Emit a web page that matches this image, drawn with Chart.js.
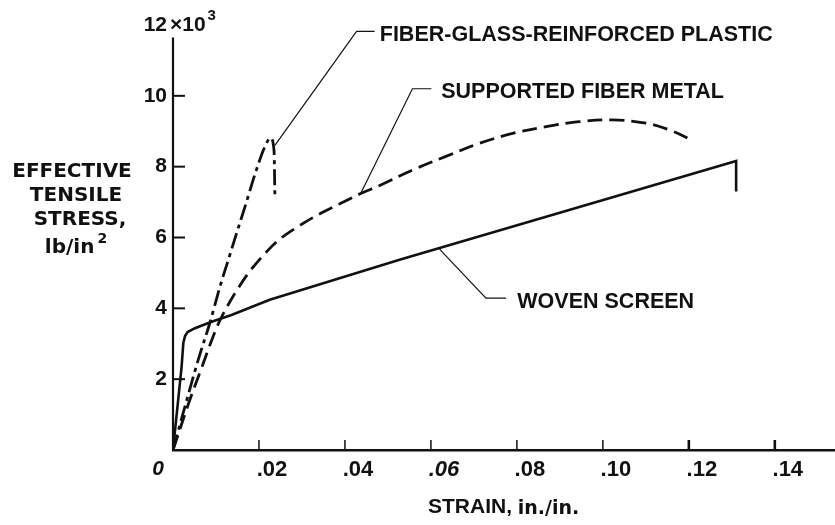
<!DOCTYPE html>
<html>
<head>
<meta charset="utf-8">
<script src="https://cdn.jsdelivr.net/npm/chart.js@4.4.0/dist/chart.umd.min.js"></script>
<style>
  html, body { margin: 0; padding: 0; background: #fff; }
  #chart { display: block; }
</style>
</head>
<body>
<canvas id="chart" width="835" height="525"></canvas>
<script>
// strain in in./in., stress in 10^3 lb/in^2
const wovenStrain = [0, 0.0012, 0.0020, 0.0024, 0.0028, 0.0034, 0.0051, 0.0090, 0.0136, 0.0225, 0.0527, 0.1310, 0.1310];
const wovenStress = [0, 1.41, 2.35, 3.02, 3.22, 3.33, 3.44, 3.62, 3.81, 4.24, 5.37, 8.16, 7.30];

const fiberMetalStrain = [0, 0.0039, 0.0063, 0.0098, 0.0117, 0.0148, 0.0179, 0.0218, 0.0248, 0.0287, 0.0334, 0.0388,
  0.0438, 0.0481, 0.0558, 0.0635, 0.0713, 0.0790, 0.0868, 0.0945, 0.1022, 0.1100, 0.1154, 0.1206];
const fiberMetalStress = [0, 1.41, 2.2, 3.35, 3.85, 4.5, 5.05, 5.6, 5.95, 6.28, 6.62, 6.95,
  7.25, 7.47, 7.91, 8.29, 8.66, 8.94, 9.13, 9.27, 9.32, 9.23, 9.04, 8.76];

const glassStrain = [0, 0.0032, 0.0060, 0.0086, 0.0109, 0.0132, 0.0150, 0.0167, 0.0194, 0.0214, 0.0227, 0.0235, 0.0237];
const glassStress = [0, 1.41, 2.6, 3.6, 4.6, 5.5, 6.2, 6.85, 7.91, 8.57, 8.81, 8.45, 7.2];

const xTickValues = [0, 0.02, 0.04, 0.06, 0.08, 0.10, 0.12, 0.14];
const xTickLabels = ['0', '.02', '.04', '.06', '.08', '.10', '.12', '.14'];
const yTickValues = [0, 2, 4, 6, 8, 10, 12];
const yTickLabels = ['', '2', '4', '6', '8', '10', '12'];

// callout labels with leader lines, in data units
const callouts = [
  { text: 'FIBER-GLASS-REINFORCED PLASTIC', from: [0.0237, 8.6], elbow: [0.0427, 11.82], to: [0.0469, 11.82], at: [0.0481, 11.72] },
  { text: 'SUPPORTED FIBER METAL', from: [0.0438, 7.28], elbow: [0.0557, 10.20], to: [0.0601, 10.20], at: [0.0624, 10.12] },
  { text: 'WOVEN SCREEN', from: [0.0620, 5.67], elbow: [0.0728, 4.29], to: [0.0775, 4.29], at: [0.0801, 4.18] }
];

function toPoints(xs, ys) {
  return xs.map((x, i) => ({ x: x, y: ys[i] }));
}

const ink = '#111';

const figurePlugin = {
  id: 'figure',
  afterDraw(chart) {
    const ctx = chart.ctx;
    const x = chart.scales.x, y = chart.scales.y;
    const px = v => x.getPixelForValue(v);
    const py = v => y.getPixelForValue(v);
    ctx.save();
    ctx.strokeStyle = ink;
    ctx.fillStyle = ink;

    // y axis line stops a little short of the top label
    ctx.lineWidth = 2.2;
    ctx.beginPath();
    ctx.moveTo(px(0), py(0));
    ctx.lineTo(px(0), py(11.65));
    ctx.stroke();

    // tick marks point into the plot
    ctx.lineWidth = 2;
    yTickValues.forEach(v => {
      if (v === 0 || v === 12) return;
      ctx.beginPath();
      ctx.moveTo(px(0), py(v));
      ctx.lineTo(px(0) + 12, py(v));
      ctx.stroke();
    });
    xTickValues.forEach(v => {
      if (v === 0) return;
      ctx.lineWidth = v > 0.11 ? 2.6 : 1.5;
      ctx.beginPath();
      ctx.moveTo(px(v), py(0));
      ctx.lineTo(px(v), py(0) - 10);
      ctx.stroke();
    });

    // origin label
    ctx.textBaseline = 'middle';
    ctx.textAlign = 'center';
    ctx.font = 'italic bold 21px "Liberation Sans"';
    ctx.fillText(xTickLabels[0], px(0) - 15, py(0) + 19);

    // x10^3 after the top tick label
    ctx.textAlign = 'left';
    ctx.font = 'bold 21px "Liberation Sans"';
    const mult = '\u00d710';
    ctx.fillText(mult, px(0) - 3, py(12));
    const mw = ctx.measureText(mult).width;
    ctx.font = 'bold 15px "Liberation Sans"';
    ctx.fillText('3', px(0) - 3 + mw + 2, py(12) - 9);

    // y title, stacked horizontally at the left
    ctx.textAlign = 'center';
    ctx.font = 'bold 20px "DejaVu Sans"';
    ctx.fillText('EFFECTIVE', 72, 172);
    ctx.fillText('TENSILE', 76, 196);
    ctx.fillText('STRESS,', 80, 220);
    ctx.textAlign = 'left';
    const unit = 'lb/in';
    const uw = ctx.measureText(unit).width;
    ctx.font = 'bold 14px "DejaVu Sans"';
    const sw = ctx.measureText('2').width;
    const ux = 76 - (uw + sw + 3) / 2;
    ctx.font = 'bold 20px "DejaVu Sans"';
    ctx.fillText(unit, ux, 248);
    ctx.font = 'bold 14px "DejaVu Sans"';
    ctx.fillText('2', ux + uw + 3, 239);

    // x title
    ctx.font = 'bold 21px "Liberation Sans"';
    const head = 'STRAIN, ';
    ctx.fillText(head, 428, 507);
    const hw = ctx.measureText(head).width;
    ctx.font = 'bold 19px "DejaVu Sans"';
    ctx.fillText('in./in.', 428 + hw, 509);

    // callouts
    ctx.lineWidth = 1.2;
    ctx.font = 'bold 21.5px "Liberation Sans"';
    callouts.forEach(c => {
      ctx.beginPath();
      ctx.moveTo(px(c.from[0]), py(c.from[1]));
      ctx.lineTo(px(c.elbow[0]), py(c.elbow[1]));
      ctx.lineTo(px(c.to[0]), py(c.to[1]));
      ctx.stroke();
      ctx.fillText(c.text, px(c.at[0]), py(c.at[1]));
    });
    ctx.restore();
  }
};

new Chart(document.getElementById('chart'), {
  type: 'line',
  data: {
    datasets: [
      {
        label: 'Woven screen',
        data: toPoints(wovenStrain, wovenStress),
        borderColor: ink,
        borderWidth: 2.6,
        tension: 0,
        pointRadius: 0
      },
      {
        label: 'Supported fiber metal',
        data: toPoints(fiberMetalStrain, fiberMetalStress),
        borderColor: ink,
        borderWidth: 2.8,
        borderDash: [15, 7],
        tension: 0.35,
        pointRadius: 0
      },
      {
        label: 'Fiber-glass-reinforced plastic',
        data: toPoints(glassStrain, glassStress),
        borderColor: ink,
        borderWidth: 2.8,
        borderDash: [16, 5, 4, 5],
        cubicInterpolationMode: 'monotone',
        pointRadius: 0
      }
    ]
  },
  options: {
    responsive: false,
    animation: false,
    devicePixelRatio: 1,
    layout: { padding: { top: 25, right: 0, bottom: 0, left: 0 } },
    plugins: {
      legend: { display: false },
      tooltip: { enabled: false }
    },
    scales: {
      x: {
        type: 'linear',
        min: 0,
        max: 0.154,
        afterBuildTicks: s => { s.ticks = xTickValues.map(v => ({ value: v })); },
        afterFit: s => { s.height = 75; },
        grid: { display: false, drawTicks: false },
        border: { display: true, color: ink, width: 2.5 },
        ticks: {
          padding: 7,
          labelOffset: 13,
          color: ink,
          autoSkip: false,
          maxRotation: 0,
          font: c => ({ family: 'Liberation Sans', size: 22, weight: 'bold', style: c.index === 3 ? 'italic' : 'normal' }),
          callback: (v, i) => (i === 0 ? '' : xTickLabels[i])
        }
      },
      y: {
        type: 'linear',
        min: 0,
        max: 12,
        afterBuildTicks: s => { s.ticks = yTickValues.map(v => ({ value: v })); },
        afterFit: s => { s.width = 173; },
        grid: { display: false, drawTicks: false },
        border: { display: false },
        ticks: {
          padding: 6,
          color: ink,
          font: { family: 'Liberation Sans', size: 21, weight: 'bold' },
          callback: (v, i) => yTickLabels[i]
        }
      }
    }
  },
  plugins: [figurePlugin]
});
</script>
</body>
</html>
